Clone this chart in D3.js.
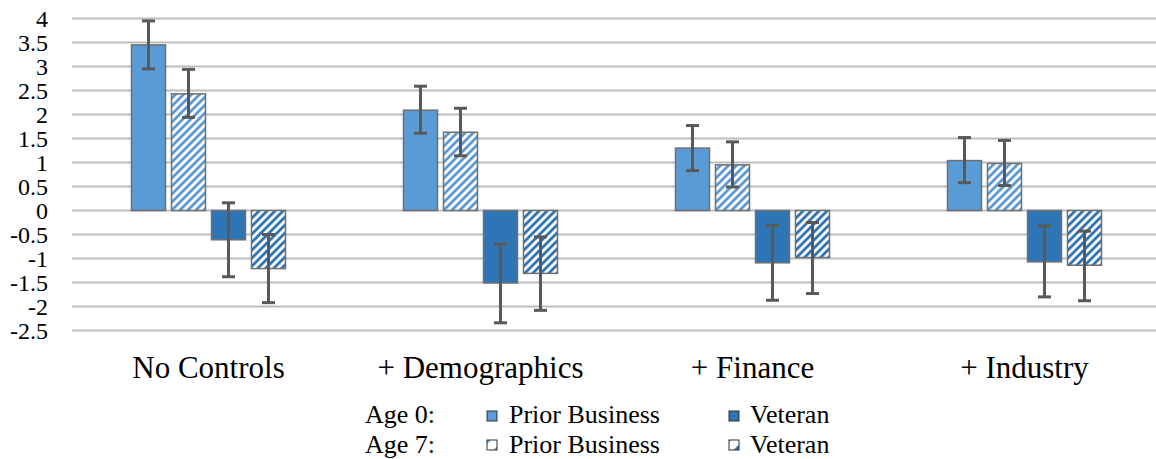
<!DOCTYPE html>
<html>
<head>
<meta charset="utf-8">
<script src="https://cdn.jsdelivr.net/npm/d3@7"></script>
</head>
<body style="margin:0">
<svg id="c" width="1156" height="459"></svg>
<script>
const categories = ["No Controls", "+ Demographics", "+ Finance", "+ Industry"];
const seriesNames = ["Age 0: Prior Business", "Age 7: Prior Business", "Age 0: Veteran", "Age 7: Veteran"];
const priorAge0 = [3.45, 2.09, 1.30, 1.04];
const priorAge7 = [2.43, 1.63, 0.95, 0.98];
const vetAge0   = [-0.61, -1.51, -1.09, -1.07];
const vetAge7   = [-1.21, -1.31, -0.98, -1.14];
const priorAge0Lo = [2.95, 1.61, 0.83, 0.58];
const priorAge0Hi = [3.95, 2.59, 1.77, 1.52];
const priorAge7Lo = [1.94, 1.14, 0.49, 0.52];
const priorAge7Hi = [2.94, 2.13, 1.43, 1.46];
const vetAge0Lo   = [-1.38, -2.34, -1.87, -1.80];
const vetAge0Hi   = [0.16, -0.70, -0.31, -0.32];
const vetAge7Lo   = [-1.92, -2.08, -1.73, -1.88];
const vetAge7Hi   = [-0.50, -0.55, -0.25, -0.43];
const yTicks = [4, 3.5, 3, 2.5, 2, 1.5, 1, 0.5, 0, -0.5, -1, -1.5, -2, -2.5];
const yTickLabels = ["4", "3.5", "3", "2.5", "2", "1.5", "1", "0.5", "0", "-0.5", "-1", "-1.5", "-2", "-2.5"];
const legendRows = ["Age 0:", "Age 7:"];
const legendItems = ["Prior Business", "Veteran"];

const lightBlue = "#5B9BD5";
const darkBlue = "#2E75B6";
const FONT = "'Liberation Serif', monospace";

const series = [
  { name: seriesNames[0], values: priorAge0, lo: priorAge0Lo, hi: priorAge0Hi, color: lightBlue, hatch: false },
  { name: seriesNames[1], values: priorAge7, lo: priorAge7Lo, hi: priorAge7Hi, color: lightBlue, hatch: true },
  { name: seriesNames[2], values: vetAge0, lo: vetAge0Lo, hi: vetAge0Hi, color: darkBlue, hatch: false },
  { name: seriesNames[3], values: vetAge7, lo: vetAge7Lo, hi: vetAge7Hi, color: darkBlue, hatch: true }
];

const svg = d3.select("#c").style("display", "block").style("font-family", FONT, "important");
const defs = svg.append("defs");

function makePattern(id, color) {
  const p = defs.append("pattern")
    .attr("id", id)
    .attr("patternUnits", "userSpaceOnUse")
    .attr("width", 8).attr("height", 8);
  p.append("rect").attr("width", 8).attr("height", 8).attr("fill", color);
  p.append("polygon").attr("points", "0,0 4,0 0,4").attr("fill", "#fff");
  p.append("polygon").attr("points", "8,0 8,4 4,8 0,8").attr("fill", "#fff");
}
makePattern("hatchLight", lightBlue);
makePattern("hatchDark", darkBlue);

const x0 = d3.scaleBand().domain(categories).range([72.5, 1160.5]).padding(0);
const x1 = d3.scaleBand().domain(seriesNames).range([-80, 80]).paddingInner(0.15).paddingOuter(0.075);
const y = d3.scaleLinear().domain([-2.5, 4]).range([330.5, 18.5]);

// gridlines
svg.append("g").selectAll("line").data(yTicks).join("line")
  .attr("x1", 72).attr("x2", 1156)
  .attr("y1", d => y(d)).attr("y2", d => y(d))
  .attr("stroke", "#bdbdbd").attr("stroke-width", 2);

// y tick labels
svg.append("g").selectAll("text").data(yTicks).join("text")
  .attr("x", 48).attr("y", d => y(d))
  .attr("text-anchor", "end")
  .attr("dy", "0.34em")
  .attr("font-size", 24)
  .style("font-family", FONT, "important")
  .attr("fill", "#000")
  .text((d, i) => yTickLabels[i]);

// bars
const groups = svg.append("g").selectAll("g").data(series).join("g");
groups.selectAll("rect").data(s => s.values.map((v, i) => ({ s, v, i }))).join("rect")
  .attr("x", d => x0(categories[d.i]) + x0.bandwidth() / 2 + x1(d.s.name))
  .attr("width", x1.bandwidth())
  .attr("y", d => y(Math.max(0, d.v)))
  .attr("height", d => Math.abs(y(d.v) - y(0)))
  .attr("fill", d => d.s.hatch ? (d.s.color === lightBlue ? "url(#hatchLight)" : "url(#hatchDark)") : d.s.color)
  .attr("stroke", "#6f6f6f").attr("stroke-width", 1.5);

// error bars
const eb = svg.append("g").attr("stroke", "#595959").attr("stroke-width", 3);
series.forEach(s => {
  s.values.forEach((v, i) => {
    const cx = x0(categories[i]) + x0.bandwidth() / 2 + x1(s.name) + x1.bandwidth() / 2;
    eb.append("line").attr("x1", cx).attr("x2", cx).attr("y1", y(s.hi[i])).attr("y2", y(s.lo[i]));
    eb.append("line").attr("x1", cx - 6.5).attr("x2", cx + 6.5).attr("y1", y(s.hi[i])).attr("y2", y(s.hi[i]));
    eb.append("line").attr("x1", cx - 6.5).attr("x2", cx + 6.5).attr("y1", y(s.lo[i])).attr("y2", y(s.lo[i]));
  });
});

// category labels
svg.append("g").selectAll("text").data(categories).join("text")
  .attr("x", d => x0(d) + x0.bandwidth() / 2)
  .attr("y", 378)
  .attr("text-anchor", "middle")
  .attr("font-size", 31)
  .style("font-family", FONT, "important")
  .attr("fill", "#000")
  .text(d => d);

// legend
const leg = svg.append("g");
const rowY = [423, 453];
const swatchY = [411, 440];
const itemSwX = [487, 729];
const itemTxX = [509, 750];
legendRows.forEach((r, ri) => {
  leg.append("text").attr("x", 365).attr("y", rowY[ri]).attr("font-size", 26).style("font-family", FONT, "important").attr("fill", "#000").text(r);
  legendItems.forEach((it, ii) => {
    const color = ii === 0 ? lightBlue : darkBlue;
    const sx = itemSwX[ii], sy = swatchY[ri], sz = 10;
    if (ri === 0) {
      leg.append("rect").attr("x", sx).attr("y", sy).attr("width", sz).attr("height", sz)
        .attr("fill", color).attr("stroke", "#333").attr("stroke-width", 1);
    } else {
      leg.append("rect").attr("x", sx).attr("y", sy).attr("width", sz).attr("height", sz).attr("fill", "#fff");
      const big = ii === 0 ? 3.5 : 5.5;
      const small = ii === 0 ? 4 : 2;
      leg.append("polygon").attr("points", `${sx},${sy} ${sx + small},${sy} ${sx},${sy + small}`).attr("fill", color);
      leg.append("polygon").attr("points", `${sx + sz},${sy + sz - big} ${sx + sz},${sy + sz} ${sx + sz - big},${sy + sz}`).attr("fill", color);
      leg.append("rect").attr("x", sx).attr("y", sy).attr("width", sz).attr("height", sz)
        .attr("fill", "none").attr("stroke", "#333").attr("stroke-width", 1);
    }
    leg.append("text").attr("x", itemTxX[ii]).attr("y", rowY[ri]).attr("font-size", 26).style("font-family", FONT, "important").attr("fill", "#000").text(it);
  });
});
</script>
</body>
</html>
